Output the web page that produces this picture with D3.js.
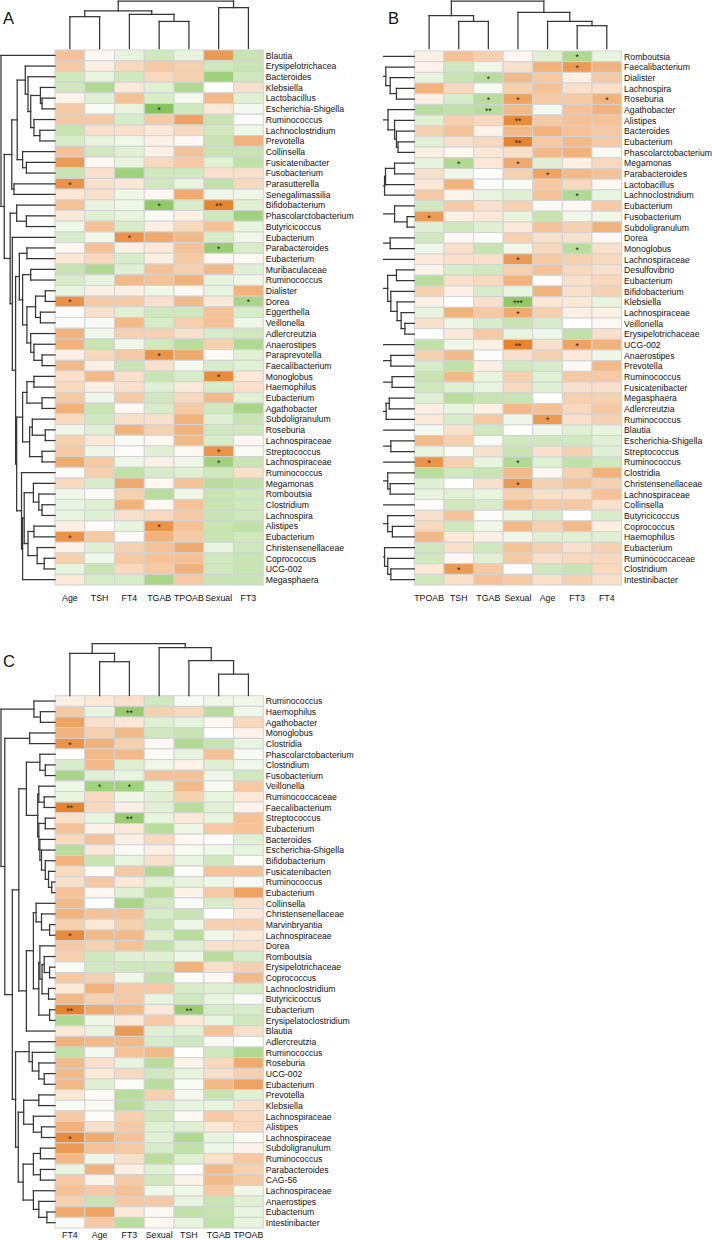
<!DOCTYPE html>
<html><head><meta charset="utf-8">
<script src="https://cdn.jsdelivr.net/npm/d3@7"></script>
<style>body{margin:0;background:#fff;} svg{display:block;font-family:"Liberation Sans",Arial,sans-serif;}</style>
</head><body><svg id="c" width="712" height="1240"></svg>
<script>
// ---------------- Panel A ----------------
const colsA = ["Age","TSH","FT4","TGAB","TPOAB","Sexual","FT3"];
const rowsA = ["Blautia","Erysipelotrichacea","Bacteroides","Klebsiella","Lactobacillus","Escherichia-Shigella","Ruminococcus","Lachnoclostridium","Prevotella","Collinsella","Fusicatenibacter","Fusobacterium","Parasutterella","Senegalimassilia","Bifidobacterium","Phascolarctobacterium","Butyricicoccus","Eubacterium","Parabacteroides","Eubacterium","Muribaculaceae","Ruminococcus","Dialister","Dorea","Eggerthella","Veillonella","Adlercreutzia","Anaerostipes","Paraprevotella","Faecalibacterium","Monoglobus","Haemophilus","Eubacterium","Agathobacter","Subdoligranulum","Roseburia","Lachnospiraceae","Streptococcus","Lachnospiraceae","Ruminococcus","Megamonas","Romboutsia","Clostridium","Lachnospira","Alistipes","Eubacterium","Christensenellaceae","Coprococcus","UCG-002","Megasphaera"];
const valsA = [
[0.4,0.05,-0.15,-0.3,-0.15,0.65,-0.35],
[0.35,0.1,0.25,0.35,0.3,-0.3,-0.35],
[-0.3,-0.15,-0.3,0.25,0.3,-0.6,-0.3],
[-0.3,-0.5,0.15,-0.2,-0.5,0,0.2],
[0.08,-0.2,0.4,-0.25,-0.08,0.45,-0.2],
[0.35,-0.05,-0.15,-0.75,-0.3,0.15,-0.08],
[0.35,0.35,-0.25,0.35,0.6,-0.35,0.02],
[-0.35,0.2,0.2,0.15,0.25,-0.3,-0.1],
[-0.25,-0.15,-0.1,0.1,0.05,-0.35,0.5],
[0.4,-0.3,-0.2,0.1,0.4,-0.35,-0.35],
[0.65,0.05,-0.15,0.25,0.35,-0.2,-0.4],
[-0.35,0.2,-0.6,-0.3,-0.3,0.2,0.2],
[0.7,0.2,0.15,-0.3,-0.15,-0.4,0.25],
[0.15,0.2,-0.1,0.05,0.55,-0.1,-0.1],
[0.4,-0.15,-0.1,-0.7,-0.25,0.85,-0.2],
[0.15,-0.2,-0.15,-0.05,0.1,-0.3,-0.6],
[-0.1,0.4,-0.25,0.1,0.25,0.4,-0.15],
[-0.25,-0.1,0.7,0.55,0.45,-0.25,-0.1],
[0.05,0.4,0.1,0.15,0.4,-0.65,-0.25],
[0.15,0.25,-0.25,0.1,0.35,0.05,0.05],
[-0.35,-0.5,-0.2,0.4,0.3,0.45,-0.2],
[-0.25,-0.15,0.45,0.4,0.5,-0.15,-0.1],
[-0.15,0.1,0.1,-0.1,0.05,-0.15,0.5],
[0.7,0.35,0.35,0.2,0.45,0.15,-0.55],
[0.02,0.2,-0.2,-0.3,-0.3,0.4,-0.25],
[0.02,-0.05,0.45,-0.25,0.3,0.4,-0.1],
[0.5,-0.1,0.3,0.3,0.2,-0.25,-0.3],
[0.5,-0.35,-0.1,-0.3,-0.45,0.3,-0.5],
[0.1,0.25,0.35,0.7,0.55,0.03,-0.2],
[0.45,0.1,-0.35,0.2,-0.08,-0.25,-0.2],
[0.2,0.45,0.2,-0.35,-0.25,0.75,0.15],
[0.25,0.1,0.2,-0.2,0.15,-0.25,0.2],
[0.35,-0.1,0.35,-0.3,0.25,0.45,-0.2],
[0.5,-0.35,0.05,-0.25,0.35,-0.3,-0.55],
[0.25,-0.3,0.2,0.2,0.5,-0.2,-0.35],
[-0.1,-0.2,0.5,0.3,0.5,-0.3,-0.3],
[0.3,0.15,-0.05,0.05,0.45,-0.25,0.05],
[0.35,-0.1,0.02,-0.2,0.05,0.7,-0.05],
[0.55,0.35,-0.1,0.1,-0.1,-0.6,-0.35],
[0.02,0.3,-0.4,-0.25,-0.2,-0.3,0.2],
[0.25,-0.25,0.55,0.05,0.4,-0.45,-0.4],
[-0.1,0.03,0.3,-0.45,-0.1,-0.35,-0.3],
[-0.15,-0.2,0.5,0.05,0.4,-0.35,-0.3],
[-0.15,-0.2,0.2,0.25,0.35,-0.35,-0.3],
[0.1,0.03,-0.15,0.7,0.4,-0.35,-0.4],
[0.7,0.35,0.03,0.5,0.35,-0.35,-0.3],
[0.08,-0.2,0.3,0.4,0.55,-0.15,-0.3],
[0.3,-0.1,0.35,0.4,0.4,-0.3,-0.35],
[-0.15,-0.35,0.25,0.35,0.5,-0.3,-0.35],
[0.15,-0.25,-0.25,-0.55,0.35,-0.35,-0.35]];
const starsA = [[5,3,"*"],[12,0,"*"],[14,3,"*"],[14,5,"**"],[17,2,"*"],[18,5,"*"],[23,0,"*"],[23,6,"*"],[28,3,"*"],[30,5,"*"],[37,5,"*"],[38,5,"*"],[44,3,"*"],[45,0,"*"]];
const colTreeA = [1,[0.79,[0.67,0,1],[0.72,2,[0.57,3,4]]],[0.86,5,6]];
const rowTreeA = [1,0,[0.94,
  [0.8,
    [0.7,
      [0.55,1,[0.5,2,[0.45,[0.27,3,[0.24,4,5]],[0.39,6,[0.28,7,8]]]]],
      [0.6,9,[0.53,10,11]]],
    [0.76,12,13]],
  [0.83,
    [0.71,14,[0.53,15,16]],
    [0.79,17,
      [0.73,
        [0.66,[0.52,18,19],[0.6,[0.45,20,21],[0.52,[0.36,[0.18,22,23],[0.27,24,25]],[0.45,26,[0.39,27,[0.24,28,29]]]]]],
        [0.71,
          [0.6,[0.52,[0.39,30,31],[0.24,32,33]],[0.47,[0.42,34,[0.18,35,36]],[0.24,37,38]]],
          [0.62,39,[0.6,[0.57,[0.4,40,[0.3,41,[0.24,42,43]]],[0.5,[0.39,44,45],[0.33,46,[0.2,47,48]]]],49]]]]]]]];

// ---------------- Panel B ----------------
const colsB = ["TPOAB","TSH","TGAB","Sexual","Age","FT3","FT4"];
const rowsB = ["Romboutsia","Faecalibacterium","Dialister","Lachnospira","Roseburia","Agathobacter","Alistipes","Bacteroides","Eubacterium","Phascolarctobacterium","Megamonas","Parabacteroides","Lactobacillus","Lachnoclostridium","Eubacterium","Fusobacterium","Subdoligranulum","Dorea","Monoglobus","Lachnospiraceae","Desulfovibrio","Eubacterium","Bifidobacterium","Klebsiella","Lachnospiraceae","Veillonella","Erysipelotrichaceae","UCG-002","Anaerostipes","Prevotella","Ruminococcus","Fusicatenibacter","Megasphaera","Adlercreutzia","Ruminococcus","Blautia","Escherichia-Shigella","Streptococcus","Ruminococcus","Clostridia","Christensenellaceae","Lachnospiraceae","Collinsella","Butyricicoccus","Coprococcus","Haemophilus","Eubacterium","Ruminococcaceae","Clostridium","Intestinibacter"];
const valsB = [
[0.1,0.4,0.3,0.05,-0.2,-0.5,-0.15],
[0.08,-0.3,-0.1,0.2,0.5,0.65,0.5],
[-0.15,-0.35,-0.45,0.45,0.35,0.1,0.35],
[0.5,0.25,-0.05,0.3,0.4,0.2,0.2],
[0.1,-0.25,-0.45,0.6,0.35,0.35,0.5],
[-0.45,-0.4,-0.45,0.45,-0.08,0.4,0.5],
[-0.2,0.3,0.25,0.75,0.35,0.4,0.4],
[0.3,0.4,0.08,0.45,0.5,0.4,0.35],
[-0.2,0.2,0.25,0.8,0.35,0.45,0.35],
[0.1,0.05,0.15,0.2,0.45,0.5,-0.05],
[-0.15,-0.5,0.15,0.55,-0.2,0.1,0.25],
[0.2,-0.1,0,0.3,0.6,0.45,0.4],
[0.15,0.5,0.02,-0.05,0.35,0.25,0.05],
[0.35,0.08,-0.15,-0.2,0.4,-0.5,-0.15],
[-0.3,0.35,0.2,0.3,-0.05,0.05,0.35],
[0.65,0.1,0.15,-0.15,-0.35,-0.1,-0.1],
[-0.2,-0.3,-0.2,0.15,0.4,0.3,0.5],
[-0.3,0.05,-0.03,0.3,0.2,0.2,0.05],
[-0.1,0.2,-0.35,-0.1,0.25,-0.45,0.2],
[0.15,0.2,0.2,0.65,0.35,0.3,0.25],
[0.08,-0.25,-0.3,0.3,0.4,0.25,0.2],
[-0.45,0.2,0.25,0.5,0.02,0.2,0.25],
[0.3,0.1,-0.25,-0.15,0.5,0.2,0.3],
[0.1,0,0.2,-0.7,0.15,0.15,-0.15],
[-0.15,0.5,0.35,0.55,0.3,0.1,0.1],
[0.2,-0.1,-0.25,-0.35,-0.25,0,0.05],
[0,0.15,0.35,-0.15,-0.1,-0.4,0.2],
[-0.4,-0.1,0.1,0.8,0.2,0.6,0.5],
[0.3,0.45,0.02,0.2,0.3,0.15,-0.1],
[-0.25,-0.4,0.1,-0.3,-0.25,0.05,0.45],
[-0.35,0.45,-0.15,0.3,-0.2,0.35,0.35],
[-0.3,-0.2,-0.15,0.25,-0.2,0.2,0.2],
[-0.2,-0.45,-0.35,-0.35,0,0.3,0.3],
[0.1,-0.15,0.1,0.45,0.4,0.25,0.35],
[0.15,-0.25,0.35,-0.1,0.65,0.2,0.3],
[-0.08,0.2,-0.3,0,-0.1,-0.2,-0.15],
[0.45,0.3,-0.05,-0.3,-0.3,-0.3,-0.2],
[-0.15,-0.05,0.2,-0.35,0.2,0.3,-0.2],
[0.7,0.3,-0.15,-0.5,-0.2,-0.4,-0.3],
[-0.45,-0.3,-0.35,0.45,0.05,0.3,0.5],
[-0.2,0,0.2,0.65,0.3,0.4,0.3],
[-0.15,-0.2,-0.15,0.3,0.2,0.2,0.4],
[0.02,-0.3,-0.25,0.45,0.35,0.35,0.2],
[0.2,0.4,0.03,-0.15,-0.25,0,-0.25],
[0.25,-0.3,-0.1,0.45,0.3,0.45,0.1],
[0.45,0.15,0.1,-0.1,-0.2,-0.2,-0.2],
[-0.3,0.2,-0.3,0.4,0.3,0.2,0.3],
[-0.3,0.05,-0.2,0.35,0.2,0.25,0.25],
[0.15,0.65,0.35,0,-0.3,-0.35,0.25],
[-0.3,0.2,0.4,0.35,0.2,0.3,0.2]];
const starsB = [[0,5,"*"],[1,5,"*"],[2,2,"*"],[4,2,"*"],[4,3,"*"],[4,6,"*"],[5,2,"**"],[6,3,"**"],[8,3,"**"],[10,1,"*"],[10,3,"*"],[11,4,"*"],[13,5,"*"],[15,0,"*"],[18,5,"*"],[19,3,"*"],[23,3,"***"],[24,3,"*"],[27,3,"**"],[27,5,"*"],[34,4,"*"],[38,0,"*"],[38,3,"*"],[40,3,"*"],[48,1,"*"]];
const colTreeB = [1,[0.69,0,[0.57,1,2]],[0.76,3,[0.57,4,[0.48,5,6]]]];
const rowTreeB = [1.5,
  [1.1,0,[0.91,1,[0.77,2,[0.57,3,4]]]],
  [0.84,5,[0.63,6,[0.57,7,[0.52,8,9]]]],
  [0.95,[0.92,[0.63,10,11],12],13],
  [0.63,14,[0.23,15,16]],
  [0.77,17,18],
  19,
  [1.05,[0.85,[0.57,20,21],[0.75,22,[0.55,23,[0.42,24,[0.3,25,26]]]]],27],
  [0.75,28,29],
  [0.71,30,31],
  [0.9,[0.8,32,33],34],
  35,
  [0.75,36,37],
  38,
  [0.85,39,[0.77,40,41]],
  42,
  [0.85,43,[0.7,44,45]],
  [0.95,46,[0.85,47,[0.75,48,49]]]];

// ---------------- Panel C ----------------
const colsC = ["FT4","Age","FT3","Sexual","TSH","TGAB","TPOAB"];
const rowsC = ["Ruminococcus","Haemophilus","Agathobacter","Monoglobus","Clostridia","Phascolarctobacterium","Clostridium","Fusobacterium","Veillonella","Ruminococcaceae","Faecalibacterium","Streptococcus","Eubacterium","Bacteroides","Escherichia-Shigella","Bifidobacterium","Fusicatenibacten","Ruminococcus","Eubacterium","Collinsella","Christensenellaceae","Marvinbryantia","Lachnospiraceae","Dorea","Romboutsia","Erysipelotrichaceae","Coprococcus","Lachnoclostridium","Butyricicoccus","Eubacterium","Erysipelatoclostridium","Blautia","Adlercreutzia","Ruminococcus","Roseburia","UCG-002","Eubacterium","Prevotella","Klebsiella","Lachnospiraceae","Alistipes","Lachnospiraceae","Subdoligranulum","Ruminococcus","Parabacteroides","CAG-56","Lachnospiraceae","Anaerostipes","Eubacterium","Intestinibacter"];
const valsC = [
[0.1,0.15,0.2,-0.3,-0.05,-0.1,-0.1],
[0.35,-0.15,-0.65,0.3,0.25,-0.45,-0.1],
[0.6,0.2,0.15,-0.2,-0.15,0.05,0.25],
[0.5,0.3,0.45,-0.3,-0.35,0,0.08],
[0.7,0.5,0.3,0.05,-0.5,-0.35,-0.15],
[0,0.45,0.45,0.03,-0.15,0.4,-0.05],
[-0.25,0.45,-0.2,-0.1,0.08,-0.2,-0.1],
[-0.55,-0.2,-0.15,0.4,0.4,-0.1,-0.3],
[-0.1,-0.6,-0.6,-0.15,0.45,-0.05,0.35],
[-0.15,0.25,-0.1,-0.2,0.3,-0.15,0.15],
[0.8,0.25,0.1,-0.2,-0.45,-0.2,0.08],
[0.2,-0.15,-0.65,-0.15,0.15,-0.15,0.4],
[0.4,0.08,0.15,-0.45,-0.1,0.35,0.4],
[0.25,0.4,0.1,0.25,0.05,0.02,-0.2],
[-0.45,0.15,-0.05,0.1,-0.05,-0.1,-0.15],
[0.5,-0.35,-0.15,0.2,-0.15,-0.3,-0.03],
[0.25,0.03,0.35,-0.5,0.02,0.4,0.4],
[0.2,0.35,0.15,-0.2,-0.15,-0.1,-0.05],
[0.4,0.05,-0.2,-0.45,0.08,0.35,0.6],
[0.45,0,-0.55,-0.3,-0.05,-0.25,0.2],
[0.5,0.4,0.4,-0.25,-0.35,0,0.15],
[0.3,0.15,0.3,-0.35,-0.1,0.3,0.3],
[0.75,0.45,0.45,-0.2,-0.45,-0.1,0.15],
[0.35,0.3,0.4,-0.4,-0.2,0.2,0.2],
[0.3,-0.3,-0.2,-0.2,-0.1,-0.45,-0.25],
[-0.05,-0.3,-0.3,-0.3,0.5,0.2,0.3],
[0.35,0.3,-0.1,-0.4,0.02,0.05,0.45],
[0.15,0.5,0.35,0.35,-0.25,-0.2,-0.25],
[0.45,0.3,0.35,-0.15,-0.3,-0.15,-0.05],
[0.8,0.55,0.45,0.15,-0.65,-0.25,-0.25],
[-0.5,-0.1,0.15,0.35,0.15,-0.15,-0.3],
[0.15,-0.15,0.65,-0.2,-0.2,0.4,0.2],
[0.5,0.45,0.45,-0.25,-0.3,-0.05,0],
[-0.4,-0.08,0.4,0.45,0,-0.3,-0.5],
[0.45,0.2,-0.15,-0.45,0.08,0.25,0.55],
[0.45,0.15,0.25,-0.3,-0.15,0.2,0.3],
[0.45,-0.2,0.03,-0.45,-0.05,0.45,0.6],
[0.15,0.02,-0.45,0.3,-0.08,-0.35,-0.2],
[-0.05,-0.05,-0.45,-0.25,-0.15,-0.15,0.2],
[0.35,0.03,0.3,-0.3,0.05,0.35,0.25],
[0.5,0.2,0.35,-0.2,-0.2,0.15,0.25],
[0.75,0.55,0.4,-0.2,-0.5,-0.15,-0.05],
[0.65,0.4,0.35,-0.25,-0.4,-0.1,0.08],
[0.45,-0.1,0.2,-0.45,-0.2,0.2,0.35],
[-0.15,0.5,0.1,-0.2,0.02,0.45,0.3],
[0.35,0.08,0.35,-0.3,0.08,0.45,0.35],
[0.4,0.35,0.4,-0.1,-0.1,0.35,-0.1],
[0.3,-0.35,0.35,0.35,-0.15,-0.35,-0.2],
[0.55,0.6,0.15,0.05,-0.4,-0.35,-0.15],
[0.03,0.35,-0.45,0.05,-0.15,-0.4,-0.15]];
const starsC = [[1,2,"**"],[4,0,"*"],[8,1,"*"],[8,2,"*"],[10,0,"**"],[11,2,"**"],[22,0,"*"],[29,0,"**"],[29,4,"**"],[41,0,"*"]];
const colTreeC = [1,[0.81,0,[0.65,1,2]],[0.92,3,[0.67,4,[0.41,5,6]]]];
const rowTreeC = [1,[0.39,0,[0.27,1,2]],[0.93,[0.47,3,4],[0.79,
  [0.67,
    [0.53,[0.28,5,[0.18,6,7]],[0.32,[0.3,8,[0.2,9,10]],[0.3,[0.18,11,12],[0.28,13,[0.25,14,[0.18,15,[0.12,16,[0.06,17,18]]]]]]]],
    [0.53,[0.4,[0.35,19,[0.25,20,[0.1,21,22]]],[0.3,[0.28,23,[0.24,[0.2,24,[0.1,25,26]],[0.12,27,28]]],[0.1,29,30]]],31]],
  [0.73,[0.48,32,[0.42,33,[0.3,34,[0.2,35,36]]]],
    [0.68,[0.58,[0.3,37,38],[0.4,39,[0.25,40,41]]],[0.59,[0.4,[0.27,42,43],[0.27,44,45]],[0.4,46,[0.3,47,[0.15,48,49]]]]]]]]];

// ---------------- Drawing ----------------
const svg = d3.select("#c");
const color = d3.scaleLinear().domain([-0.8,0,0.8]).range(["#80c250","#ffffff","#e8842c"]).clamp(true);

function drawTree(g, tree, leafPos, hScale, isCol){
  function rec(node){
    if (typeof node === "number") return {p: leafPos(node), h: 0};
    const h = node[0];
    const kids = node.slice(1).map(rec);
    const a = kids[0].p, b = kids[kids.length-1].p, hp = hScale(h);
    if (!isCol){
      g.append("line").attr("x1",hp).attr("x2",hp).attr("y1",a).attr("y2",b);
      kids.forEach(k => g.append("line").attr("x1",hp).attr("x2",hScale(k.h)).attr("y1",k.p).attr("y2",k.p));
    } else {
      g.append("line").attr("y1",hp).attr("y2",hp).attr("x1",a).attr("x2",b);
      kids.forEach(k => g.append("line").attr("y1",hp).attr("y2",hScale(k.h)).attr("x1",k.p).attr("x2",k.p));
    }
    return {p:(a+b)/2, h};
  }
  rec(tree);
}

function panel(c){
  const x = d3.scaleBand().domain(d3.range(c.cols.length)).range([c.x0,c.x1]);
  const y = d3.scaleBand().domain(d3.range(c.rows.length)).range([c.y0,c.y1]);
  const g = svg.append("g");
  c.vals.forEach((row,i)=>row.forEach((v,j)=>{
    g.append("rect").attr("x",x(j)).attr("y",y(i)).attr("width",x.bandwidth()).attr("height",y.bandwidth())
      .attr("fill",color(v)).attr("stroke","#d3d3d3").attr("stroke-width",1);
  }));
  c.stars.forEach(([i,j,s])=>{
    g.append("text").attr("x",x(j)+x.bandwidth()/2).attr("y",y(i)+y.bandwidth()/2+4)
      .attr("text-anchor","middle").attr("font-size",8.5).attr("fill","#222").text(s);
  });
  c.rows.forEach((r,i)=>{
    g.append("text").attr("transform","translate("+(c.x1+2.5)+","+(y(i)+y.bandwidth()/2+3.3)+") scale(0.92,1)")
      .attr("font-size",9.4).attr("fill","#111").text(r);
  });
  c.cols.forEach((s,j)=>{
    g.append("text").attr("transform","translate("+(x(j)+x.bandwidth()/2)+","+c.colLabelY+") scale(0.9,1)")
      .attr("text-anchor","middle").attr("font-size",9.8).attr("fill","#111").text(s);
  });
  const dg = svg.append("g").attr("stroke","#363636").attr("stroke-width",1.25).attr("stroke-linecap","square").attr("fill","none");
  if (c.clipLeft !== undefined){
    const id = "clip"+c.label;
    svg.append("clipPath").attr("id",id).append("rect").attr("x",c.clipLeft).attr("y",c.y0-5).attr("width",c.x0-c.clipLeft+1).attr("height",c.y1-c.y0+10);
    dg.attr("clip-path","url(#"+id+")");
  }
  const rowH = d3.scaleLinear().domain([0,1]).range([c.x0, c.rowRoot]);
  drawTree(dg, c.rowTree, i=>y(i)+y.bandwidth()/2, rowH, false);
  const colH = d3.scaleLinear().domain([0,1]).range([c.colLeaf, c.colRoot]);
  const dg2 = svg.append("g").attr("stroke","#363636").attr("stroke-width",1.25).attr("stroke-linecap","square").attr("fill","none");
  drawTree(dg2, c.colTree, j=>x(j)+x.bandwidth()/2, colH, true);
  svg.append("text").attr("x",c.lx).attr("y",c.ly).attr("font-size",16.5).attr("fill","#111").text(c.label);
}

panel({label:"A",lx:3,ly:23.5,cols:colsA,rows:rowsA,vals:valsA,stars:starsA,rowTree:rowTreeA,colTree:colTreeA,
  x0:55,x1:263.3,y0:50,y1:585,rowRoot:1,colLeaf:48.5,colRoot:1,colLabelY:601});
panel({label:"B",lx:388,ly:23.5,cols:colsB,rows:rowsB,vals:valsB,stars:starsB,rowTree:rowTreeB,colTree:colTreeB,
  x0:414.3,x1:621.6,y0:51,y1:585,rowRoot:383,clipLeft:383,colLeaf:48.5,colRoot:1,colLabelY:601});
panel({label:"C",lx:3,ly:667,cols:colsC,rows:rowsC,vals:valsC,stars:starsC,rowTree:rowTreeC,colTree:colTreeC,
  x0:55,x1:263.3,y0:695.7,y1:1228,rowRoot:1,colLeaf:695.5,colRoot:643.5,colLabelY:1238});
</script></body></html>
